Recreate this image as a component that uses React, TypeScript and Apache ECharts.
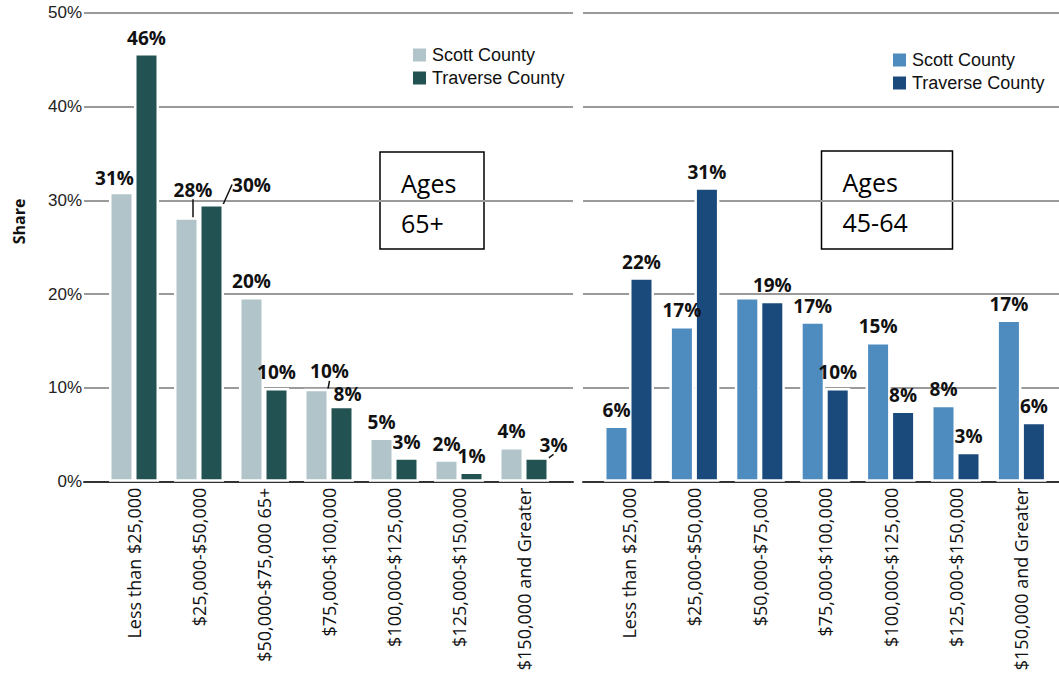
import React, { useEffect, useRef } from "react";
import * as echarts from "echarts";

const categories65 = [
  "Less than $25,000",
  "$25,000-$50,000",
  "$50,000-$75,000 65+",
  "$75,000-$100,000",
  "$100,000-$125,000",
  "$125,000-$150,000",
  "$150,000 and Greater",
];
const categories45 = [
  "Less than $25,000",
  "$25,000-$50,000",
  "$50,000-$75,000",
  "$75,000-$100,000",
  "$100,000-$125,000",
  "$125,000-$150,000",
  "$150,000 and Greater",
];
const scott65 = [30.9, 28.2, 19.7, 9.9, 4.7, 2.4, 3.7];
const traverse65 = [45.7, 29.6, 10.0, 8.1, 2.6, 1.1, 2.6];
const scott45 = [6.0, 16.6, 19.7, 17.1, 14.9, 8.2, 17.3];
const traverse45 = [21.8, 31.4, 19.3, 10.0, 7.6, 3.2, 6.4];
const yMax = 50;
const yInterval = 10;

// manual label displacements (like the original's hand-placed labels)
const labelShift: Record<number, Record<number, [number, number, boolean]>> = {
  0: { 0: [-7, 2, false], 1: [6.5, -12, true], 3: [13, -2, true] },
  1: { 1: [40, -4, true], 3: [6, 4, false], 6: [17, 3, true] },
};
const hiddenLabels: Record<number, number[]> = { 2: [2] };

const colors = {
  scott65: "#B0C4CA",
  trav65: "#225352",
  scott45: "#4E8BBF",
  trav45: "#1A4A7C",
};

export default function App() {
  const ref = useRef<HTMLDivElement>(null);
  useEffect(() => {
    if (!ref.current) return;
    const chart = echarts.init(ref.current, null, { renderer: "svg" });
    const top = 12.7;
    const height = 469;

    const labelFont = {
      fontFamily: "Open Sans",
      fontWeight: "bold" as const,
      fontSize: 19,
      lineHeight: 15,
      color: "#111",
    };

    const mkData = (vals: number[], si: number) =>
      vals.map((v, i) => {
        const item: any = { value: v };
        if (hiddenLabels[si] && hiddenLabels[si].includes(i)) {
          item.label = { show: false };
        }
        const sh = labelShift[si] && labelShift[si][i];
        if (sh && sh[2]) {
          item.labelLine = { show: true };
        }
        return item;
      });

    const barSeries = (name: string, vals: number[], si: number, axisIdx: number, color: string) => ({
      type: "bar",
      name,
      xAxisIndex: axisIdx,
      yAxisIndex: axisIdx,
      data: mkData(vals, si),
      barWidth: 25,
      barGap: "0%",
      itemStyle: { color, borderColor: "#fff", borderWidth: 2.5 },
      label: {
        show: true,
        position: "top",
        distance: 8,
        formatter: (p: any) => Math.round(p.value) + "%",
        ...labelFont,
      },
      labelLine: { show: false, lineStyle: { color: "#111", width: 1.5 } },
      labelLayout: (p: any) => {
        const sh = labelShift[si] && labelShift[si][p.dataIndex];
        if (!sh) return {};
        return { dx: sh[0], dy: sh[1] };
      },
    });

    const catAxis = (gridIndex: number, data: string[]) => ({
      type: "category",
      gridIndex,
      data,
      axisLine: { show: false },
      axisTick: { show: false },
      axisLabel: {
        rotate: 90,
        margin: 6,
        interval: 0,
        fontFamily: "Open Sans",
        fontSize: 18,
        color: "#111",
      },
    });

    const frameX = (gridIndex: number) => ({
      type: "value",
      gridIndex,
      min: 0,
      max: 1,
      axisLine: { show: true, onZero: false, lineStyle: { color: "#333", width: 2 } },
      axisTick: { show: false },
      axisLabel: { show: false },
      splitLine: { show: false },
    });

    const frameY = (gridIndex: number, showLabels: boolean) => ({
      type: "value",
      gridIndex,
      min: 0,
      max: yMax,
      interval: yInterval,
      axisLine: { show: false },
      axisTick: { show: false },
      axisLabel: {
        show: showLabels,
        formatter: "{value}%",
        margin: 2,
        fontFamily: "Liberation Sans",
        fontSize: 17,
        color: "#222",
      },
      splitLine: { show: true, lineStyle: { color: "#9a9a9a", width: 2 } },
    });

    const hiddenY = (gridIndex: number) => ({
      type: "value",
      gridIndex,
      min: 0,
      max: yMax,
      interval: yInterval,
      show: false,
    });

    const legend = (left: number, topPx: number, names: string[]) => ({
      orient: "vertical",
      left,
      top: topPx,
      itemWidth: 15,
      itemHeight: 15,
      itemGap: 5,
      icon: "rect",
      data: names,
      formatter: (n: string) => n.replace(/ \(.*\)$/, ""),
      textStyle: { fontFamily: "Liberation Sans", fontSize: 18, color: "#111" },
    });

    const box = (x: number, y: number, w: number, h: number, l1: string, l2: string) => ({
      type: "group",
      z: 100,
      children: [
        {
          type: "rect",
          shape: { x, y, width: w, height: h },
          style: { fill: "#fff", stroke: "#000", lineWidth: 1.5 },
        },
        {
          type: "text",
          x: x + 21,
          y: y + 31,
          style: {
            text: l1,
            font: "25px 'Open Sans'",
            fill: "#000",
            verticalAlign: "middle",
          },
        },
        {
          type: "text",
          x: x + 21,
          y: y + 71,
          style: {
            text: l2,
            font: "25px 'Open Sans'",
            fill: "#000",
            verticalAlign: "middle",
          },
        },
      ],
    });

    chart.setOption({
      animation: false,
      grid: [
        { left: 84, top, width: 489, height },
        { left: 101.5, top, width: 455, height },
        { left: 583, top, width: 476, height },
        { left: 596.3, top, width: 457.8, height },
      ],
      xAxis: [frameX(0), catAxis(1, categories65), frameX(2), catAxis(3, categories45)],
      yAxis: [frameY(0, true), hiddenY(1), frameY(2, false), hiddenY(3)],
      legend: [
        legend(406, 41, ["Scott County (65+)", "Traverse County (65+)"]),
        legend(886, 46, ["Scott County (45-64)", "Traverse County (45-64)"]),
      ],
      series: [
        barSeries("Scott County (65+)", scott65, 0, 1, colors.scott65),
        barSeries("Traverse County (65+)", traverse65, 1, 1, colors.trav65),
        barSeries("Scott County (45-64)", scott45, 2, 3, colors.scott45),
        barSeries("Traverse County (45-64)", traverse45, 3, 3, colors.trav45),
      ],
      graphic: [
        {
          type: "text",
          x: 18.5,
          y: 221.5,
          rotation: Math.PI / 2,
          style: {
            text: "Share",
            font: "bold 16px 'Open Sans'",
            fill: "#111",
            align: "center",
            verticalAlign: "middle",
          },
        },
        box(380, 152, 104, 97, "Ages", "65+"),
        box(821.5, 151, 131, 98, "Ages", "45-64"),
      ],
    });
    return () => chart.dispose();
  }, []);
  return (
    <div
      ref={ref}
      style={{ position: "fixed", left: 0, top: 0, width: 1059, height: 679, background: "#fff" }}
    />
  );
}
